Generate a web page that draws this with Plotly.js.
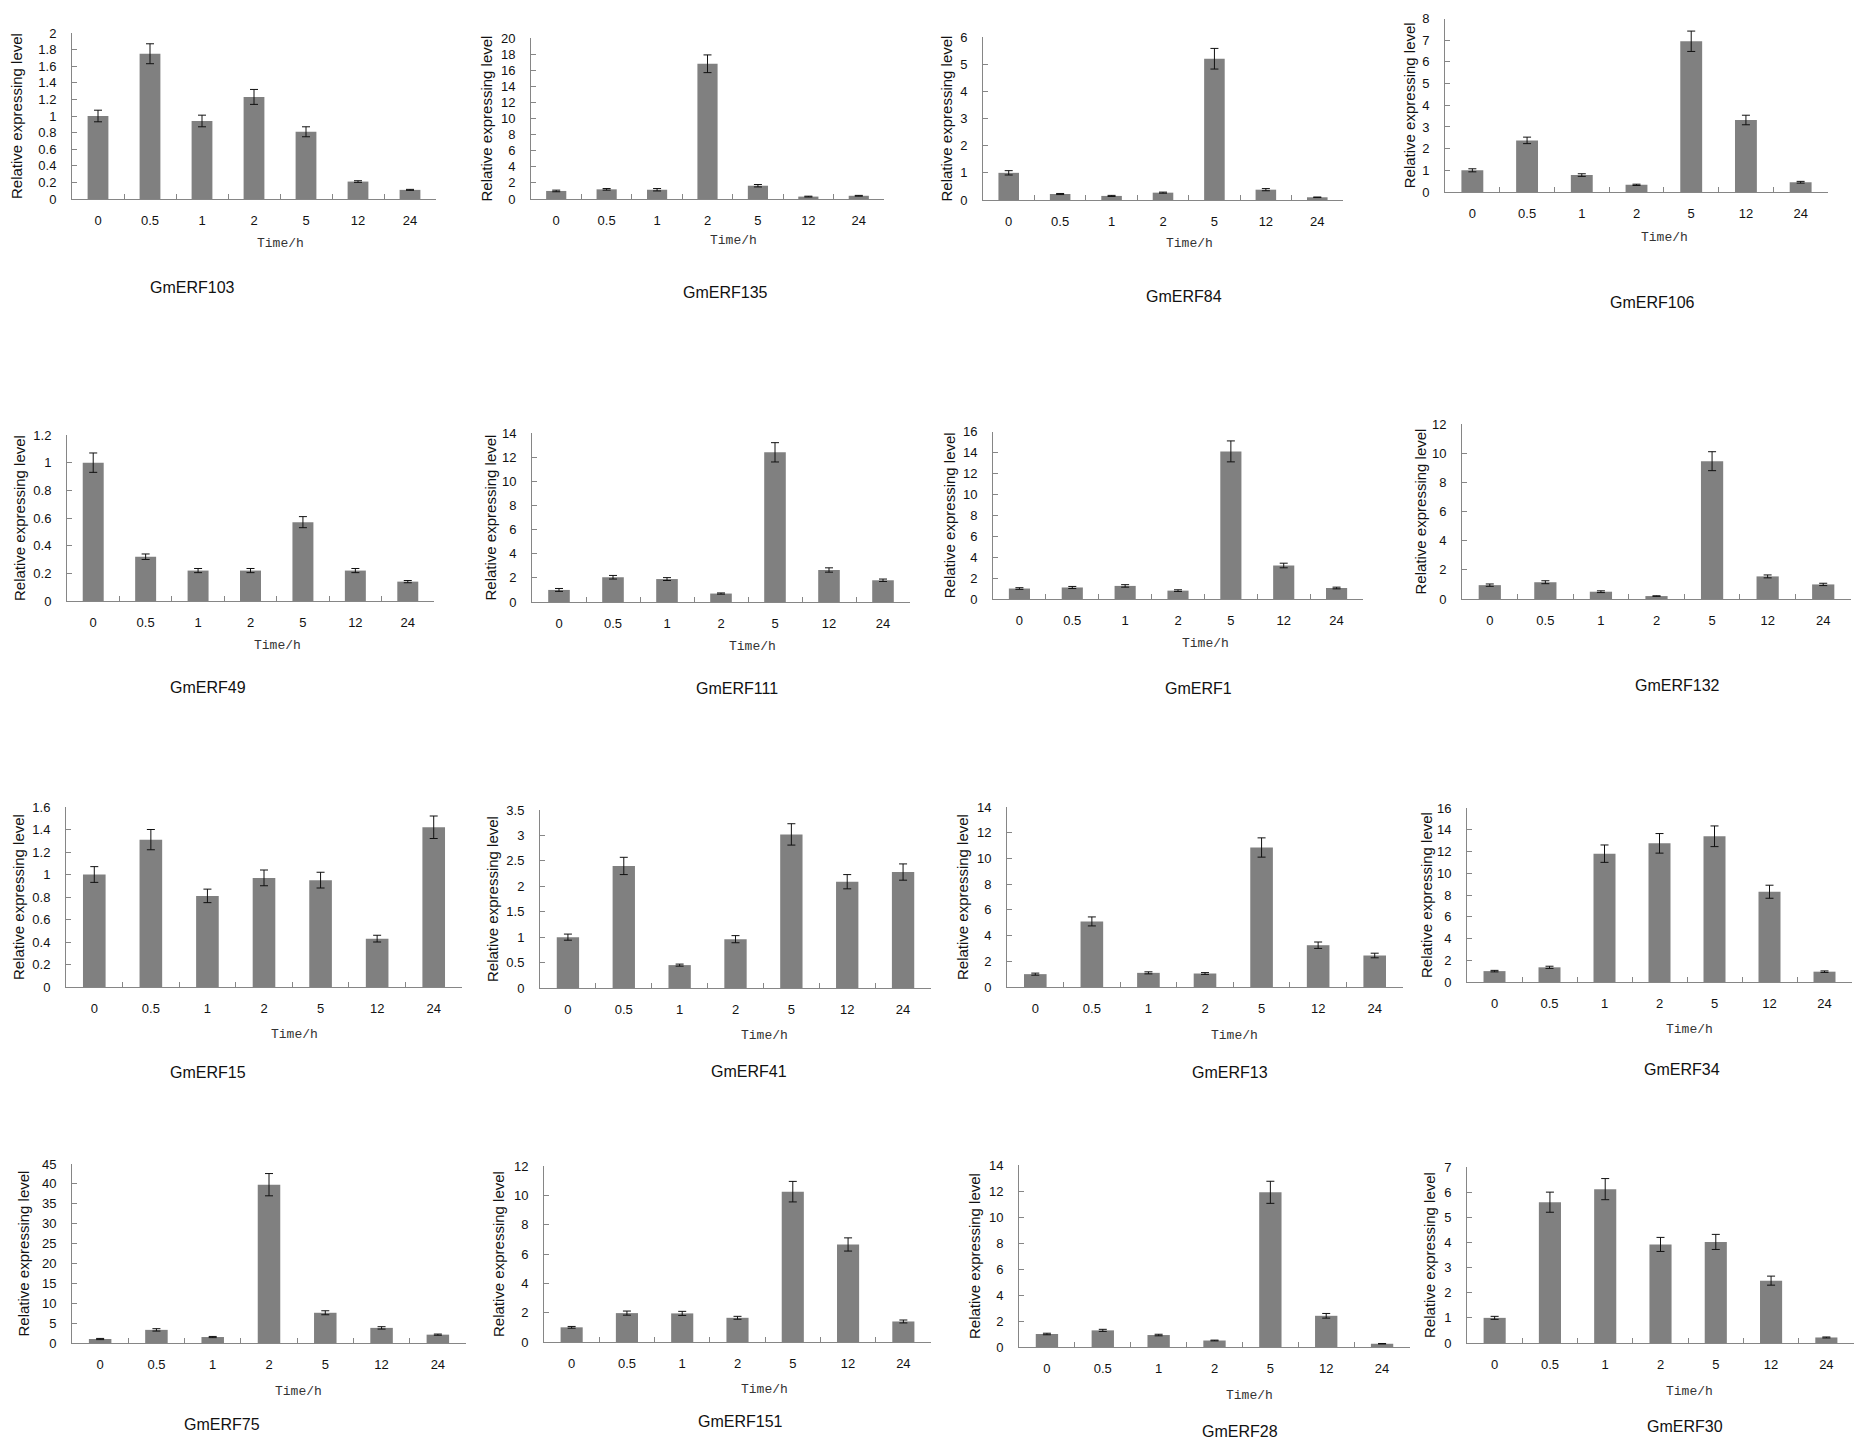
<!DOCTYPE html>
<html>
<head>
<meta charset="utf-8">
<script src="https://cdn.plot.ly/plotly-3.0.1.min.js"></script>
<style>
  html, body { margin: 0; padding: 0; background: #fff; }
  #chart { width: 1874px; height: 1448px; }
</style>
</head>
<body>
<div id="chart"></div>
<script>
// time points (h)
const times = ["0", "0.5", "1", "2", "5", "12", "24"];

const genes = [
  "GmERF103", "GmERF135", "GmERF84", "GmERF106",
  "GmERF49", "GmERF111", "GmERF1", "GmERF132",
  "GmERF15", "GmERF41", "GmERF13", "GmERF34",
  "GmERF75", "GmERF151", "GmERF28", "GmERF30"
];

// relative expression and error per gene
const gmerf103 = [1.0, 1.75, 0.94, 1.23, 0.81, 0.21, 0.11];
const gmerf103Err = [0.07, 0.12, 0.07, 0.09, 0.06, 0.01, 0.006];
const gmerf135 = [1.0, 1.2, 1.15, 16.8, 1.65, 0.3, 0.4];
const gmerf135Err = [0.1, 0.1, 0.15, 1.1, 0.15, 0.05, 0.05];
const gmerf84 = [1.0, 0.22, 0.15, 0.27, 5.2, 0.38, 0.1];
const gmerf84Err = [0.08, 0.02, 0.02, 0.02, 0.38, 0.04, 0.01];
const gmerf106 = [1.0, 2.38, 0.78, 0.33, 6.95, 3.32, 0.45];
const gmerf106Err = [0.07, 0.15, 0.06, 0.03, 0.47, 0.22, 0.04];

const gmerf49 = [1.0, 0.32, 0.22, 0.22, 0.57, 0.22, 0.14];
const gmerf49Err = [0.07, 0.02, 0.015, 0.015, 0.04, 0.015, 0.008];
const gmerf111 = [1.0, 2.05, 1.9, 0.7, 12.4, 2.65, 1.8];
const gmerf111Err = [0.12, 0.15, 0.12, 0.05, 0.8, 0.18, 0.1];
const gmerf1 = [1.0, 1.1, 1.25, 0.8, 14.1, 3.2, 1.05];
const gmerf1Err = [0.08, 0.1, 0.12, 0.08, 1.0, 0.22, 0.08];
const gmerf132 = [0.95, 1.15, 0.5, 0.2, 9.45, 1.55, 1.0];
const gmerf132Err = [0.08, 0.1, 0.06, 0.02, 0.65, 0.1, 0.08];

const gmerf15 = [1.0, 1.31, 0.81, 0.97, 0.95, 0.43, 1.42];
const gmerf15Err = [0.07, 0.09, 0.06, 0.07, 0.07, 0.03, 0.1];
const gmerf41 = [1.0, 2.4, 0.45, 0.96, 3.02, 2.09, 2.28];
const gmerf41Err = [0.06, 0.17, 0.02, 0.07, 0.21, 0.14, 0.16];
const gmerf13 = [1.0, 5.1, 1.1, 1.05, 10.85, 3.25, 2.45];
const gmerf13Err = [0.08, 0.35, 0.08, 0.07, 0.75, 0.25, 0.18];
const gmerf34 = [1.0, 1.35, 11.8, 12.75, 13.4, 8.3, 0.95];
const gmerf34Err = [0.07, 0.1, 0.8, 0.9, 0.95, 0.6, 0.07];

const gmerf75 = [1.0, 3.3, 1.5, 39.8, 7.6, 3.8, 2.1];
const gmerf75Err = [0.15, 0.3, 0.15, 2.8, 0.5, 0.3, 0.15];
const gmerf151 = [1.0, 1.97, 1.95, 1.65, 10.25, 6.65, 1.4];
const gmerf151Err = [0.06, 0.14, 0.14, 0.1, 0.7, 0.45, 0.1];
const gmerf28 = [1.0, 1.28, 0.92, 0.5, 11.9, 2.4, 0.25];
const gmerf28Err = [0.06, 0.08, 0.06, 0.03, 0.85, 0.18, 0.02];
const gmerf30 = [1.0, 5.6, 6.12, 3.92, 4.02, 2.48, 0.22];
const gmerf30Err = [0.06, 0.4, 0.42, 0.28, 0.3, 0.18, 0.02];

const values = [gmerf103, gmerf135, gmerf84, gmerf106, gmerf49, gmerf111, gmerf1, gmerf132,
  gmerf15, gmerf41, gmerf13, gmerf34, gmerf75, gmerf151, gmerf28, gmerf30];
const errors = [gmerf103Err, gmerf135Err, gmerf84Err, gmerf106Err, gmerf49Err, gmerf111Err, gmerf1Err, gmerf132Err,
  gmerf15Err, gmerf41Err, gmerf13Err, gmerf34Err, gmerf75Err, gmerf151Err, gmerf28Err, gmerf30Err];

// y axis max and tick step per panel
const yMax = [2, 20, 6, 8, 1.2, 14, 16, 12, 1.6, 3.5, 14, 16, 45, 12, 14, 7];
const yStep = [0.2, 2, 1, 1, 0.2, 2, 2, 2, 0.2, 0.5, 2, 2, 5, 2, 2, 1];

// panel placement in pixels: left, right, top, bottom, ytitle x, time x, time y, name x, name y
const W = 1874, H = 1448;
const boxes = [
  [72, 436, 33, 199, 17, 280, 243, 192, 288],
  [531, 884, 38, 199, 486, 733, 241, 725, 292],
  [983, 1343, 37, 200, 946, 1189, 243, 1184, 296],
  [1445, 1828, 18.5, 192, 1409, 1664, 238, 1652, 302],
  [67, 434, 435, 601, 19, 277, 645, 208, 687],
  [532, 910, 433, 602, 490, 752, 647, 737, 688],
  [993, 1363, 431.5, 599, 949, 1205, 643, 1198, 688],
  [1462, 1851, 424, 599, 1420, null, null, 1677, 685],
  [66, 462, 807, 987, 18, 294, 1034, 208, 1072],
  [540, 931, 810, 988, 492, 764, 1035, 749, 1071],
  [1007, 1403, 807, 987, 962, 1234, 1035, 1230, 1072],
  [1467, 1852, 808, 982, 1426, 1689, 1029, 1682, 1069],
  [72, 466, 1164, 1343, 23, 298, 1391, 222, 1424],
  [544, 931, 1166, 1342, 498, 764, 1389, 740, 1421],
  [1019, 1410, 1165, 1347, 974, 1249, 1395, 1240, 1431],
  [1467, 1854, 1167, 1343, 1429, 1689, 1391, 1685, 1426]
];

const sans = "Liberation Sans, Arial, sans-serif";
const axisGrey = "#868686";
const ink = "#111";
const traces = [];
const annotations = [];
const layout = {
  width: W,
  height: H,
  margin: { l: 0, r: 0, t: 0, b: 0 },
  paper_bgcolor: "#fff",
  plot_bgcolor: "#fff",
  showlegend: false,
  bargap: 0.6,
  font: { family: sans, size: 13, color: ink },
  annotations: annotations
};

genes.forEach((gene, i) => {
  const b = boxes[i];
  const n = i === 0 ? "" : String(i + 1);
  traces.push({
    type: "bar",
    x: times,
    y: values[i],
    xaxis: "x" + n,
    yaxis: "y" + n,
    marker: { color: "#808080" },
    error_y: { type: "data", array: errors[i], visible: true, color: "#111", thickness: 1, width: 4 },
    hoverinfo: "x+y"
  });
  layout["xaxis" + n] = {
    domain: [b[0] / W, b[1] / W],
    anchor: "y" + n,
    type: "category",
    range: [-0.5, 6.5],
    showline: true,
    linecolor: axisGrey,
    linewidth: 1,
    ticks: "inside",
    tickson: "boundaries",
    ticklen: 5,
    tickcolor: axisGrey,
    ticklabelstandoff: 9,
    showgrid: false,
    zeroline: false,
    tickfont: { family: sans, size: 13, color: ink }
  };
  layout["yaxis" + n] = {
    domain: [1 - b[3] / H, 1 - b[2] / H],
    anchor: "x" + n,
    range: [0, yMax[i]],
    dtick: yStep[i],
    tick0: 0,
    showline: true,
    linecolor: axisGrey,
    linewidth: 1,
    ticks: "inside",
    ticklen: 5,
    tickcolor: axisGrey,
    ticklabelstandoff: 12,
    showgrid: false,
    zeroline: false,
    tickfont: { family: sans, size: 13, color: ink }
  };
  annotations.push({
    text: "Relative expressing level",
    xref: "paper", yref: "paper",
    x: b[4] / W, y: 1 - (b[2] + b[3]) / 2 / H,
    xanchor: "center", yanchor: "middle",
    textangle: -90, showarrow: false,
    font: { family: sans, size: 15, color: ink }
  });
  if (b[5] !== null) {
    annotations.push({
      text: "Time/h",
      xref: "paper", yref: "paper",
      x: b[5] / W, y: 1 - b[6] / H,
      xanchor: "center", yanchor: "middle",
      showarrow: false,
      font: { family: "Liberation Mono, Courier New, monospace", size: 13, color: "#333" }
    });
  }
  annotations.push({
    text: gene,
    xref: "paper", yref: "paper",
    x: b[7] / W, y: 1 - b[8] / H,
    xanchor: "center", yanchor: "middle",
    showarrow: false,
    font: { family: sans, size: 16, color: ink }
  });
});

Plotly.newPlot("chart", traces, layout, { displayModeBar: false, staticPlot: true });
</script>
</body>
</html>
